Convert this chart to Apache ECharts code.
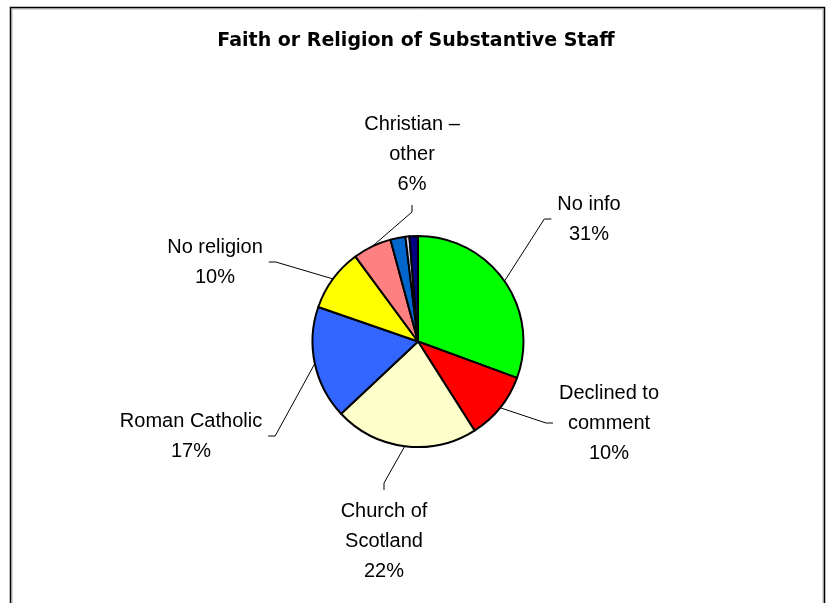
<!DOCTYPE html>
<html>
<head>
<meta charset="utf-8">
<script src="https://cdn.jsdelivr.net/npm/echarts@6/dist/echarts.min.js"></script>
<style>
html,body{margin:0;padding:0;background:#fff;}
#chart{width:832px;height:603px;}
</style>
</head>
<body>
<div id="chart"></div>
<script>
// ---- data ----
const categories = ['No info', 'Declined to comment', 'Church of Scotland', 'Roman Catholic', 'No religion', 'Christian – other', 'Other religion', 'Other', 'Other faith'];
const values = [30.6, 10.4, 22.0, 17.3, 9.6, 5.9, 2.3, 0.6, 1.3];
const labelLines = ['No info', 'Declined to\ncomment', 'Church of\nScotland', 'Roman Catholic', 'No religion', 'Christian –\nother', null, null, null];
const titleText = 'Faith or Religion of Substantive Staff';

// ---- style / layout config ----
const COLORS = ['#00FF00', '#FF0000', '#FFFFCC', '#3366FF', '#FFFF00', '#FF8080', '#0066CC', '#D8D8F4', '#000080'];
const LABEL_POS = [[589, 219], [609, 423], [384, 541], [191, 436], [215, 262], [412, 154], null, null, null];
const FONT = '"Liberation Sans", Arial, sans-serif';
const TITLE_FONT = '"DejaVu Sans", "Liberation Sans", Arial, sans-serif';
const GAP = 6, SEG = 7;

const chart = echarts.init(document.getElementById('chart'), null, {renderer: 'canvas'});

const seriesData = categories.map((name, i) => {
  const item = {name: name, value: values[i], itemStyle: {color: COLORS[i]}};
  if (!labelLines[i]) {
    item.label = {show: false};
    item.labelLine = {show: false};
  }
  return item;
});

chart.setOption({
  animation: false,
  backgroundColor: '#ffffff',
  title: {
    text: titleText,
    left: 'center',
    top: 32,
    padding: [0, 0, 0, 6],
    textStyle: {fontFamily: TITLE_FONT, fontWeight: 'bold', fontSize: 19, color: '#000'}
  },
  graphic: [
    {type: 'rect', silent: true, shape: {x: 12, y: 9, width: 811, height: 700},
     style: {fill: 'none', stroke: '#b0b0b0', lineWidth: 1}},
    {type: 'rect', silent: true, shape: {x: 10.5, y: 7.5, width: 814, height: 700},
     style: {fill: 'none', stroke: '#000', lineWidth: 1.5}}
  ],
  series: [{
    type: 'pie',
    center: [418, 341.5],
    radius: 105.5,
    startAngle: 90,
    clockwise: true,
    avoidLabelOverlap: false,
    data: seriesData,
    itemStyle: {borderColor: '#000', borderWidth: 2},
    emphasis: {disabled: true},
    label: {
      show: true,
      position: 'outside',
      fontFamily: FONT,
      fontSize: 20,
      lineHeight: 30,
      color: '#000',
      align: 'center',
      formatter: function (p) {
        return labelLines[p.dataIndex] + '\n' + Math.round(p.percent) + '%';
      }
    },
    labelLine: {show: true, length: 10, length2: 10, lineStyle: {color: '#000', width: 1}},
    labelLayout: function (p) {
      const pos = LABEL_POS[p.dataIndex];
      if (!pos) return {};
      const w = p.labelRect.width, h = p.labelRect.height;
      const res = {x: pos[0], y: pos[1], align: 'center', verticalAlign: 'middle'};
      const pts = p.labelLinePoints;
      if (!pts) return res;
      const s = pts[0];
      const left = pos[0] - w / 2, right = pos[0] + w / 2, top = pos[1] - h / 2, bottom = pos[1] + h / 2;
      let e, m;
      if (s[0] >= left && s[0] <= right) {
        if (s[1] < top) { e = [pos[0], top - GAP]; m = [pos[0], top - GAP - SEG]; }
        else { e = [pos[0], bottom + GAP]; m = [pos[0], bottom + GAP + SEG]; }
      } else if (s[0] < left) {
        e = [left - GAP, pos[1]]; m = [left - GAP - SEG, pos[1]];
      } else {
        e = [right + GAP, pos[1]]; m = [right + GAP + SEG, pos[1]];
      }
      res.labelLinePoints = [s, m, e];
      return res;
    }
  }]
});
</script>
</body>
</html>
